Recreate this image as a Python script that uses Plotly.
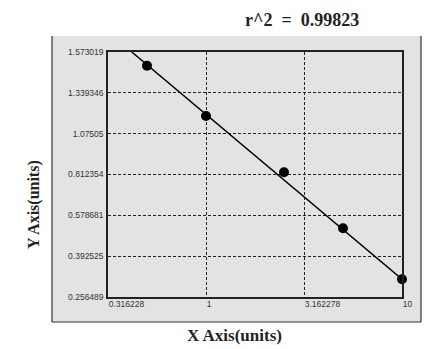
import numpy as np
import plotly.graph_objects as go

# ---- data ----
x_vals = [0.5, 1.0, 2.5, 5.0, 10.0]
y_vals = [1.4947, 1.1895, 0.8265, 0.5197, 0.3155]

fit_x = [0.418, 10.0]
fit_y = [1.573019, 0.3155]

x_ticks = [0.316228, 1, 3.162278, 10]
x_tick_text = ["0.316228", "1", "3.162278", "10"]

y_ticks = [0.256489, 0.392525, 0.578681, 0.812354, 1.07505, 1.339346, 1.573019]
y_tick_text = ["0.256489", "0.392525", "0.578681", "0.812354", "1.07505", "1.339346", "1.573019"]

title_text = "r^2  =  0.99823"
x_title = "X Axis(units)"
y_title = "Y Axis(units)"

# The y axis of the reference places its tick labels at equal spacing;
# map values onto that scale (piecewise between labelled ticks).
y_pos_ticks = list(range(len(y_ticks)))


def ypos(v):
    return np.interp(v, y_ticks, y_pos_ticks)


PANEL = "#e3e3e3"
FONT = "Liberation Sans, Arial, sans-serif"
SERIF = "Liberation Serif, Times New Roman, serif"

fig = go.Figure()
fig.add_trace(go.Scatter(x=fit_x, y=ypos(fit_y), mode="lines",
                         line=dict(color="black", width=1.5),
                         hoverinfo="skip", showlegend=False))
fig.add_trace(go.Scatter(x=x_vals, y=ypos(y_vals), mode="markers",
                         marker=dict(color="black", size=10),
                         showlegend=False, cliponaxis=False))

W, H = 441, 349
l, r, t, b = 108, 39, 52, 52
pw, ph = W - l - r, H - t - b


def px(xp):
    return (xp - l) / pw


def py(yp):
    return (H - b - yp) / ph


fig.update_layout(
    width=W, height=H,
    margin=dict(l=l, r=r, t=t, b=b),
    paper_bgcolor="white",
    plot_bgcolor=PANEL,
    showlegend=False,
    xaxis=dict(type="log", range=[-0.5, 1], tickvals=x_ticks, ticktext=x_tick_text,
               showgrid=True, gridcolor="#222", griddash="3px,2px", gridwidth=1,
               showline=True, linecolor="#222", linewidth=1.5, mirror=True,
               ticks="", ticklabelposition="outside right", ticklabelstandoff=-2,
               tickfont=dict(family=FONT, size=8.5, color="#333"),
               zeroline=False, fixedrange=True),
    yaxis=dict(range=[0, 6], tickvals=y_pos_ticks, ticktext=y_tick_text,
               showgrid=True, gridcolor="#222", griddash="3px,2px", gridwidth=1,
               showline=True, linecolor="#222", linewidth=1.5, mirror=True,
               ticks="", ticklabelstandoff=1,
               tickfont=dict(family=FONT, size=8.5, color="#333"),
               zeroline=False, fixedrange=True),
    shapes=[
        dict(type="rect", xref="paper", yref="paper", layer="below",
             x0=px(52), x1=px(421), y0=py(322), y1=py(36),
             fillcolor=PANEL, line=dict(width=0)),
        dict(type="line", xref="paper", yref="paper",
             x0=px(52), x1=px(52), y0=py(322), y1=py(36),
             line=dict(color="#333", width=1.2)),
        dict(type="line", xref="paper", yref="paper",
             x0=px(421), x1=px(421), y0=py(322), y1=py(36),
             line=dict(color="#333", width=1.2)),
        dict(type="line", xref="paper", yref="paper",
             x0=px(52), x1=px(421), y0=py(322), y1=py(322),
             line=dict(color="#333", width=1.2)),
    ],
    annotations=[
        dict(text="<b>" + title_text + "</b>", xref="paper", yref="paper",
             x=px(302), y=py(20), showarrow=False, xanchor="center", yanchor="middle",
             font=dict(family=SERIF, size=18, color="#222")),
        dict(text="<b>" + x_title + "</b>", xref="paper", yref="paper",
             x=px(234), y=py(335), showarrow=False, xanchor="center", yanchor="middle",
             font=dict(family=SERIF, size=17, color="#222")),
        dict(text="<b>" + y_title + "</b>", xref="paper", yref="paper",
             x=px(34), y=py(205), showarrow=False, xanchor="center", yanchor="middle",
             textangle=-90, font=dict(family=SERIF, size=16, color="#222")),
    ],
)

fig.write_html("out.html")
